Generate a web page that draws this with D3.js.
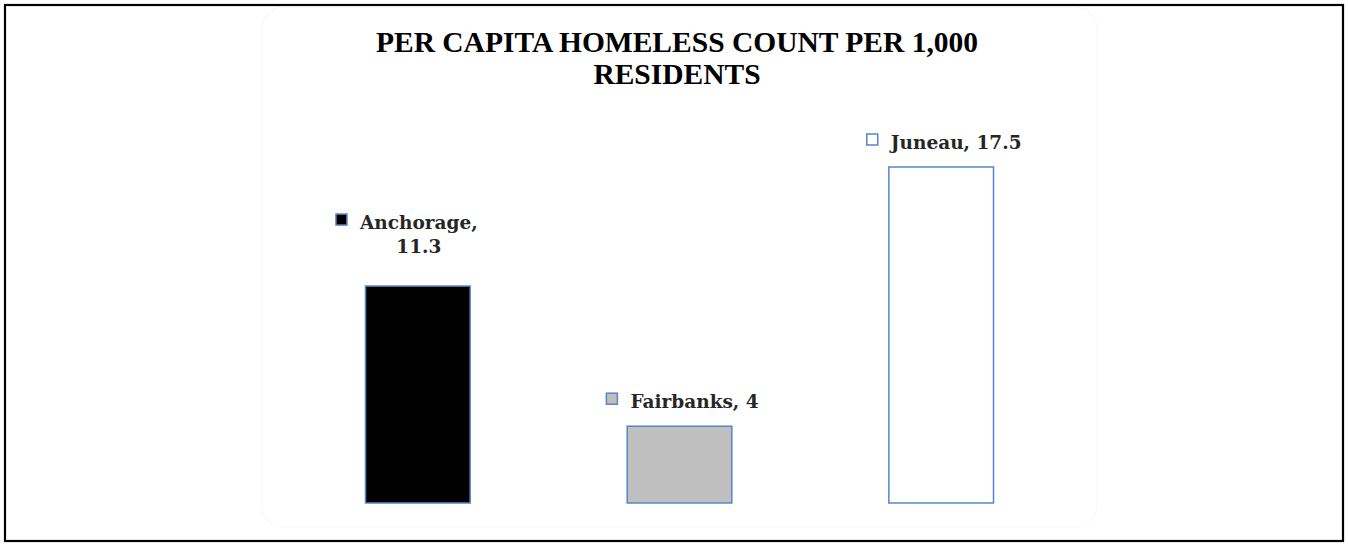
<!DOCTYPE html>
<html><head><meta charset="utf-8">
<script src="https://cdn.jsdelivr.net/npm/d3@7"></script>
<style>html,body{margin:0;padding:0;background:#fff;}svg{display:block;}</style>
</head><body>
<svg id="c" width="1348" height="544"></svg>
<script>
const categories = ["Anchorage", "Fairbanks", "Juneau"];
const values = [11.3, 4, 17.5];
const fills = ["#000000", "#BFBFBF", "#FFFFFF"];
const titleLines = ["PER CAPITA HOMELESS COUNT PER 1,000", "RESIDENTS"];

const svg = d3.select("#c");

// outer border
svg.append("rect").attr("x", 5).attr("y", 5).attr("width", 1338).attr("height", 536)
  .attr("fill", "#fff").attr("stroke", "#000").attr("stroke-width", 2.2);
// faint inner chart area
svg.append("rect").attr("x", 262).attr("y", 7).attr("width", 835).attr("height", 520)
  .attr("rx", 22).attr("fill", "none").attr("stroke", "#f6f6f6").attr("stroke-width", 1);

// title
svg.append("text").attr("x", 677).attr("y", 52).attr("text-anchor", "middle")
  .attr("font-family", "Liberation Serif").attr("font-weight", "bold")
  .attr("font-size", 29.5).attr("fill", "#000")
  .selectAll("tspan").data(titleLines).join("tspan")
  .attr("x", 677).attr("dy", (d, i) => i ? 32 : 0).text(d => d);

const x = d3.scaleBand().domain(categories).range([287, 1072]).paddingInner(0.6).paddingOuter(0.3);
const y = d3.scaleLinear().domain([0, 20]).range([503, 119]);

const stroke = "#5586CC";
svg.append("g").selectAll("rect").data(categories).join("rect")
  .attr("x", d => x(d)).attr("y", (d, i) => y(values[i]))
  .attr("width", x.bandwidth()).attr("height", (d, i) => y(0) - y(values[i]))
  .attr("fill", (d, i) => fills[i]).attr("stroke", stroke).attr("stroke-width", 1.5);

// data labels
categories.forEach((c, i) => {
  const cx = x(c) + x.bandwidth() / 2;
  const top = y(values[i]);
  const g = svg.append("g");
  const full = c + ", " + values[i];
  const t = g.append("text").attr("font-family", "DejaVu Serif").attr("font-weight", "bold")
    .attr("font-size", 18.5).attr("fill", "#262626");
  let lines = [full];
  t.text(full);
  const w = t.node().getComputedTextLength();
  if (w > 160) lines = [c + ",", String(values[i])];
  const lh = 24;
  const lastBase = lines.length > 1 ? top - 33 : top - 18;
  const firstBase = lastBase - (lines.length - 1) * lh;
  const widths = lines.map(l => { t.text(l); return t.node().getComputedTextLength(); });
  t.text(null);
  const sq = 11, gap = 13;
  const textCx = lines.length > 1 ? cx + 1 : cx + 3 + (sq + gap) / 2;
  lines.forEach((l, k) => {
    t.append("tspan").attr("x", textCx).attr("y", firstBase + k * lh)
      .attr("text-anchor", "middle").text(l);
  });
  const sqX = textCx - widths[0] / 2 - gap - sq;
  g.append("rect").attr("x", sqX).attr("y", firstBase - 15).attr("width", sq).attr("height", sq)
    .attr("fill", fills[i]).attr("stroke", stroke).attr("stroke-width", 1.5);
});
</script>
</body></html>
